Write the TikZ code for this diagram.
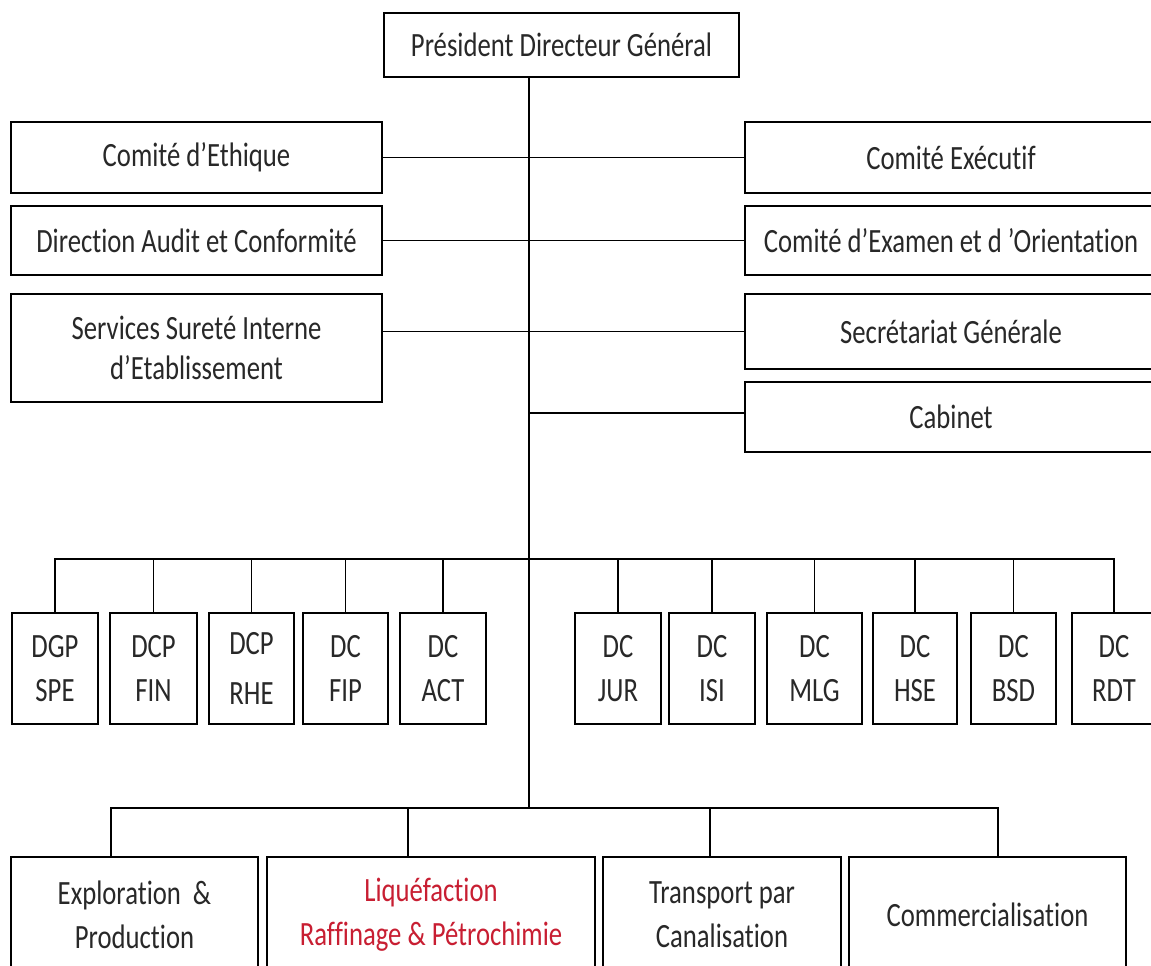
\documentclass[tikz,border=0pt]{standalone}
\usepackage{fontspec}
\setmainfont{Carlito}[FakeStretch=0.785,Ligatures=NoCommon]
\definecolor{redtxt}{RGB}{200,30,50}
\definecolor{txt}{RGB}{40,40,40}
\newcommand\bx[7][]{\node[box,#1,minimum width={(#5-#3)*0.5pt},minimum height={(#6-#4)*0.5pt}]
  (#2) at ({(#3+#5)/2},{(#4+#6)/2}) {#7};}
\begin{document}
\begin{tikzpicture}[x=0.5pt,y=-0.5pt,
  box/.style={draw, line width=1.1pt, inner sep=0pt, align=center, text=txt,
    font=\fontsize{17}{22}\selectfont},
  conn/.style={line width=0.8pt}]
\useasboundingbox (0,0) rectangle (1151,965);
\clip (0,0) rectangle (1151,965);
\fill[white] (0,0) rectangle (1151,965);
% top
\bx{pdg}{384}{13}{739}{77}{Président Directeur Général}
\bx{ethique}{11}{122}{382}{193}{Comité d’Ethique}
\bx{exec}{745}{122}{1157}{193}{Comité Exécutif}
\bx{audit}{11}{206}{382}{275}{Direction Audit et Conformité}
\bx{examen}{745}{206}{1157}{275}{Comité d’Examen et d ’Orientation}
\bx{surete}{11}{294}{382}{402}{Services Sureté Interne\\[-2pt]d’Etablissement}
\bx{secr}{745}{294}{1157}{369}{Secrétariat Générale}
\bx{cabinet}{745}{382}{1157}{452}{Cabinet}
% small boxes
\bx{dgp}{12}{613}{98}{724}{DGP\\SPE}
\bx{fin}{110}{613}{197}{724}{DCP\\FIN}
\bx{rhe}{209}{613}{294}{724}{DCP\\[3pt]RHE}
\bx{fip}{303}{613}{388}{724}{DC\\FIP}
\bx{act}{400}{613}{486}{724}{DC\\ACT}
\bx{jur}{575}{613}{661}{724}{DC\\JUR}
\bx{isi}{669}{613}{755}{724}{DC\\ISI}
\bx{mlg}{767}{613}{862}{724}{DC\\MLG}
\bx{hse}{873}{613}{957}{724}{DC\\HSE}
\bx{bsd}{971}{613}{1056}{724}{DC\\BSD}
\bx{rdt}{1072}{613}{1156}{724}{DC\\RDT}
% bottom boxes
\bx{expl}{11}{857}{258}{972}{Exploration\ \ \&\\Production}
\bx[text=redtxt]{liq}{267}{857}{595}{972}{Liquéfaction\\Raffinage \& Pétrochimie}
\bx{trans}{603}{857}{841}{972}{Transport par\\Canalisation}
\bx{comm}{849}{857}{1126}{972}{Commercialisation}
% connectors
\coordinate (top) at (529,77);
\coordinate (bus1) at (529,559);
\coordinate (bus2) at (529,808);
\draw[conn] (top) -- (bus2);
\draw[conn] (ethique.east) -- (exec.west);
\draw[conn] (audit.east) -- (examen.west);
\draw[conn] (secr.west) -- (secr.west -| surete.east);
\draw[conn] ([yshift=2pt]cabinet.west) -- ([yshift=2pt]cabinet.west -| top);
\draw[conn] (dgp.north) |- (bus1) -| (rdt.north);
\foreach \n in {fin,rhe,fip,act,jur,isi,mlg,hse,bsd}
  \draw[conn] (\n.north) -- (\n.north |- bus1);
\draw[conn] ([xshift=-11.75pt]expl.north) |- (bus2) -| ([xshift=5.25pt]comm.north);
\draw[conn] ([xshift=-11.5pt]liq.north) -- ([xshift=-11.5pt]liq.north |- bus2);
\draw[conn] ([xshift=-6pt]trans.north) -- ([xshift=-6pt]trans.north |- bus2);
\end{tikzpicture}
\end{document}
